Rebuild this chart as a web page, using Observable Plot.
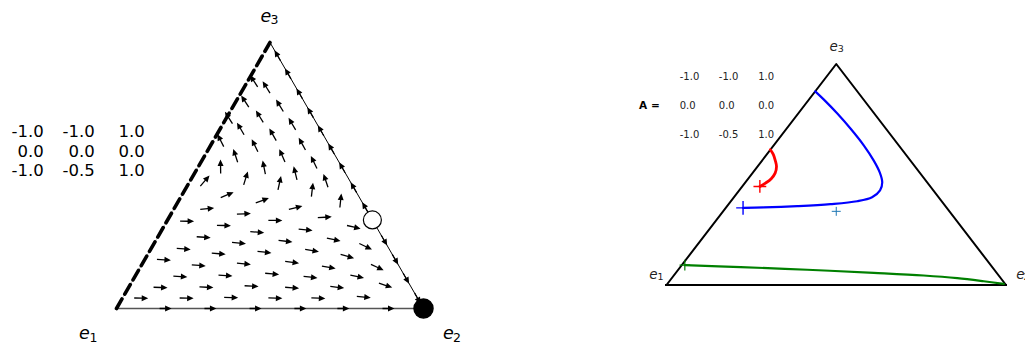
<!DOCTYPE html>
<html>
<head>
<meta charset="utf-8">
<script src="https://cdn.jsdelivr.net/npm/d3@7"></script>
<script src="https://cdn.jsdelivr.net/npm/@observablehq/plot@0.6"></script>
<style>
  body { margin: 0; background: #fff; }
  #wrap { display: flex; width: 1025px; height: 347px; overflow: hidden; }
  #wrap svg { display: block; }
</style>
</head>
<body>
<div id="wrap"></div>
<script>
// ---------------- data ----------------
// payoff matrix A (rows)
const matrixRows = [[-1.0, -1.0, 1.0], [0.0, 0.0, 0.0], [-1.0, -0.5, 1.0]];
const vertexIds = ["1", "2", "3"];

// left panel: quiver sample points, shares of strategy 2 and 3
const arrowX2 = [0.061,0.209,0.353,0.498,0.638,0.784, 0.104,0.253,0.398,0.533,0.679,0.833,
  0.148,0.293,0.442,0.573,0.724, 0.063,0.187,0.331,0.485,0.614,0.772, 0.107,0.230,0.376,0.528,0.654,
  0.150,0.276,0.424,0.578,0.695, 0.066,0.194,0.315,0.468,0.620, 0.108,0.237,0.352,0.507,
  0.147,0.272,0.394,0.527, 0.048,0.176,0.295,0.414,0.441,0.328, 0.072,0.215,0.368, 0.100,0.252,
  0.023,0.144,0.295, 0.066,0.182, 0.007,0.105,0.225, 0.029,0.150, 0.020,0.072];
const arrowX3 = [0.039,0.039,0.041,0.039,0.039,0.043, 0.079,0.080,0.084,0.078,0.080,0.087,
  0.120,0.124,0.130,0.118,0.120, 0.183,0.162,0.168,0.174,0.155,0.155, 0.224,0.206,0.212,0.218,0.196,
  0.268,0.246,0.253,0.259,0.233, 0.328,0.312,0.287,0.296,0.306, 0.375,0.356,0.331,0.343,
  0.427,0.406,0.379,0.406, 0.480,0.490,0.472,0.447,0.481,0.509, 0.534,0.531,0.550, 0.575,0.575,
  0.632,0.613,0.619, 0.676,0.654, 0.717,0.722,0.694, 0.779,0.763, 0.855,0.832];
// arrows on the boundary
const bottomEdgeX2 = [0.160, 0.306, 0.453, 0.599, 0.739, 0.886];
const rightEdgeX3 = [0.951, 0.883, 0.808, 0.737, 0.669, 0.601, 0.530, 0.455, 0.380, 0.256, 0.184, 0.113, 0.038];
// fixed points (x1, x2, x3)
const stableFixed = [[0, 1, 0]];
const unstableFixed = [[0, 0.667, 0.333]];
const fixedEdge = [[1, 0, 0], [0, 0, 1]];

// right panel: trajectories (shares of strategy 2 and 3)
const redX2 = [0.052,0.061,0.068,0.067,0.056,0.039,0.019,0.000];
const redX3 = [0.446,0.461,0.481,0.506,0.536,0.563,0.591,0.612];
const blueX2 = [0.051,0.111,0.207,0.300,0.372,0.407,0.415,0.403,0.373,0.329,0.266,0.189,0.114,0.052,0.000];
const blueX3 = [0.349,0.351,0.357,0.366,0.379,0.397,0.428,0.465,0.510,0.563,0.631,0.707,0.777,0.832,0.876];
const greenX2 = [0.009,0.178,0.380,0.583,0.736,0.841,0.926,0.991];
const greenX3 = [0.090,0.081,0.069,0.055,0.043,0.031,0.017,0.005];
const centroid = [[1/3, 1/3, 1/3]];

// ---------------- helpers ----------------
const simplex = [[1,0,0],[0,1,0],[0,0,1]];
const toU = (s) => s[1] + s[2] / 2;   // horizontal position in triangle
const toV = (s) => s[2];              // height fraction
const share = (x2, x3) => [1 - x2 - x3, x2, x3];

function replicator(x) {
  const f = matrixRows.map(r => r[0]*x[0] + r[1]*x[1] + r[2]*x[2]);
  const avg = x[0]*f[0] + x[1]*f[1] + x[2]*f[2];
  return x.map((xi, i) => xi * (f[i] - avg));
}

// ---------------- left panel ----------------
const L = {width: 512, height: 347, ml: 116, mr: 89, mt: 42, mb: 39};
const LW = L.width - L.ml - L.mr, LH = L.height - L.mt - L.mb;
const angle = (s) => {
  const d = replicator(s);
  const du = d[1] + d[2] / 2, dv = d[2];
  return Math.atan2(du * LW, dv * LH) * 180 / Math.PI;
};

const quiverShape = {
  draw(ctx, l) {
    const w = 0.65, hw = 3, hl = 6.5;
    ctx.moveTo(-w, 0);
    ctx.lineTo(-w, -l + hl);
    ctx.lineTo(-hw, -l + hl);
    ctx.lineTo(0, -l);
    ctx.lineTo(hw, -l + hl);
    ctx.lineTo(w, -l + hl);
    ctx.lineTo(w, 0);
    ctx.closePath();
  }
};

const interior = arrowX2.map((x2, i) => share(x2, arrowX3[i]));
const edgeArrows = [
  ...bottomEdgeX2.map(x2 => share(x2, 0)),
  ...rightEdgeX3.map(x3 => [0, 1 - x3, x3])
];

const matrixCells = matrixRows.flatMap((row, i) => row.map((v, j) => ({i, j, v})));
const leftColX = [-0.237, -0.071, 0.092];
const leftRowY = [0.665, 0.590, 0.519];

function vertexLabelMarks(dxy, eSize, dSize, color) {
  const marks = [];
  simplex.forEach((s, k) => {
    const [edx, edy, ddx, ddy] = dxy[k];
    marks.push(Plot.text([s], {x: toU, y: toV, text: () => "e", dx: edx, dy: edy,
      fontSize: eSize, fontStyle: "italic", fill: color, fontFamily: "DejaVu Sans"}));
    marks.push(Plot.text([s], {x: toU, y: toV, text: () => vertexIds[k], dx: ddx, dy: ddy,
      fontSize: dSize, fill: color, fontFamily: "DejaVu Sans"}));
  });
  return marks;
}

const leftPlot = Plot.plot({
  width: L.width, height: L.height,
  marginLeft: L.ml, marginRight: L.mr, marginTop: L.mt, marginBottom: L.mb,
  x: {domain: [0, 1], axis: null},
  y: {domain: [0, 1], axis: null},
  style: {fontFamily: "DejaVu Sans", background: "white", overflow: "visible"},
  marks: [
    // edges
    Plot.line([simplex[0], simplex[1]], {x: toU, y: toV, stroke: "#555", strokeWidth: 1.5}),
    Plot.line([simplex[1], simplex[2]], {x: toU, y: toV, stroke: "black", strokeWidth: 1}),
    Plot.line(fixedEdge, {x: toU, y: toV, stroke: "#bbb", strokeWidth: 0.8}),
    Plot.line(fixedEdge, {x: toU, y: toV, stroke: "black", strokeWidth: 3.6, strokeDasharray: "11,5.5"}),
    // vector field
    Plot.vector(interior, {x: toU, y: toV, rotate: angle, length: 14, anchor: "middle",
      shape: quiverShape, fill: "black", stroke: "none"}),
    Plot.vector(edgeArrows, {x: toU, y: toV, rotate: angle, length: 12, anchor: "middle",
      shape: quiverShape, fill: "black", stroke: "none"}),
    // fixed points
    Plot.dot(unstableFixed, {x: toU, y: toV, r: 9, fill: "white", stroke: "black", strokeWidth: 1.2}),
    Plot.dot(stableFixed, {x: toU, y: toV, r: 9.5, fill: "black", stroke: "black"}),
    // matrix
    Plot.text(matrixCells, {x: d => leftColX[d.j], y: d => leftRowY[d.i], text: d => d.v.toFixed(1),
      textAnchor: "end", fontSize: 16.5, fill: "black"}),
    ...vertexLabelMarks([[-32, 25, -23, 29], [25, 25, 33.5, 29], [-4, -26, 4.5, -22.5]], 17.5, 12.5, "black")
  ]
});

// ---------------- right panel ----------------
const R = {width: 513, height: 347, ml: 154, mr: 19.5, mt: 63.5, mb: 62.5};
const traj = (xs2, xs3) => xs2.map((x2, i) => share(x2, xs3[i]));
const red = traj(redX2, redX3), blue = traj(blueX2, blueX3), green = traj(greenX2, greenX3);
const rightColX = [0.039, 0.154, 0.270];
const rightRowY = [0.943, 0.812, 0.680];

const rightPlot = Plot.plot({
  width: R.width, height: R.height,
  marginLeft: R.ml, marginRight: R.mr, marginTop: R.mt, marginBottom: R.mb,
  x: {domain: [0, 1], axis: null},
  y: {domain: [0, 1], axis: null},
  style: {fontFamily: "DejaVu Sans", background: "white", overflow: "hidden"},
  marks: [
    Plot.line([simplex[0], simplex[2], simplex[1]], {x: toU, y: toV, stroke: "black", strokeWidth: 2}),
    Plot.line([simplex[0], simplex[1]], {x: toU, y: toV, stroke: "black", strokeWidth: 2.6,
      strokeDasharray: "1.6,1.4", shapeRendering: "crispEdges"}),
    Plot.line(green, {x: toU, y: toV, stroke: "green", strokeWidth: 2.2, curve: "catmull-rom"}),
    Plot.line(blue, {x: toU, y: toV, stroke: "blue", strokeWidth: 2.2, curve: "catmull-rom"}),
    Plot.line(red, {x: toU, y: toV, stroke: "red", strokeWidth: 2.8, curve: "catmull-rom"}),
    Plot.dot([green[0]], {x: toU, y: toV, symbol: "plus", r: 3.5, stroke: "green", strokeWidth: 1.2}),
    Plot.dot([blue[0]], {x: toU, y: toV, symbol: "plus", r: 4.5, stroke: "blue", strokeWidth: 1.4}),
    Plot.dot([red[0]], {x: toU, y: toV, symbol: "plus", r: 4.2, stroke: "red", strokeWidth: 1.4}),
    Plot.dot(centroid, {x: toU, y: toV, symbol: "plus", r: 3, stroke: "#1f77b4", strokeWidth: 1}),
    Plot.text(matrixCells, {x: d => rightColX[d.j], y: d => rightRowY[d.i], text: d => d.v.toFixed(1),
      textAnchor: "start", fontSize: 10, fill: "#222"}),
    Plot.text(["A ="], {x: -0.02, y: rightRowY[1], text: d => d, textAnchor: "end",
      fontSize: 10.5, fontWeight: "bold", fill: "black"}),
    ...vertexLabelMarks([[-13, -10.5, -6, -8.5], [14.5, -10.5, 20.5, -8.5], [-2.5, -17, 4.5, -15]], 13.5, 9.5, "#222")
  ]
});

const wrap = document.getElementById("wrap");
wrap.appendChild(leftPlot);
wrap.appendChild(rightPlot);
</script>
</body>
</html>
